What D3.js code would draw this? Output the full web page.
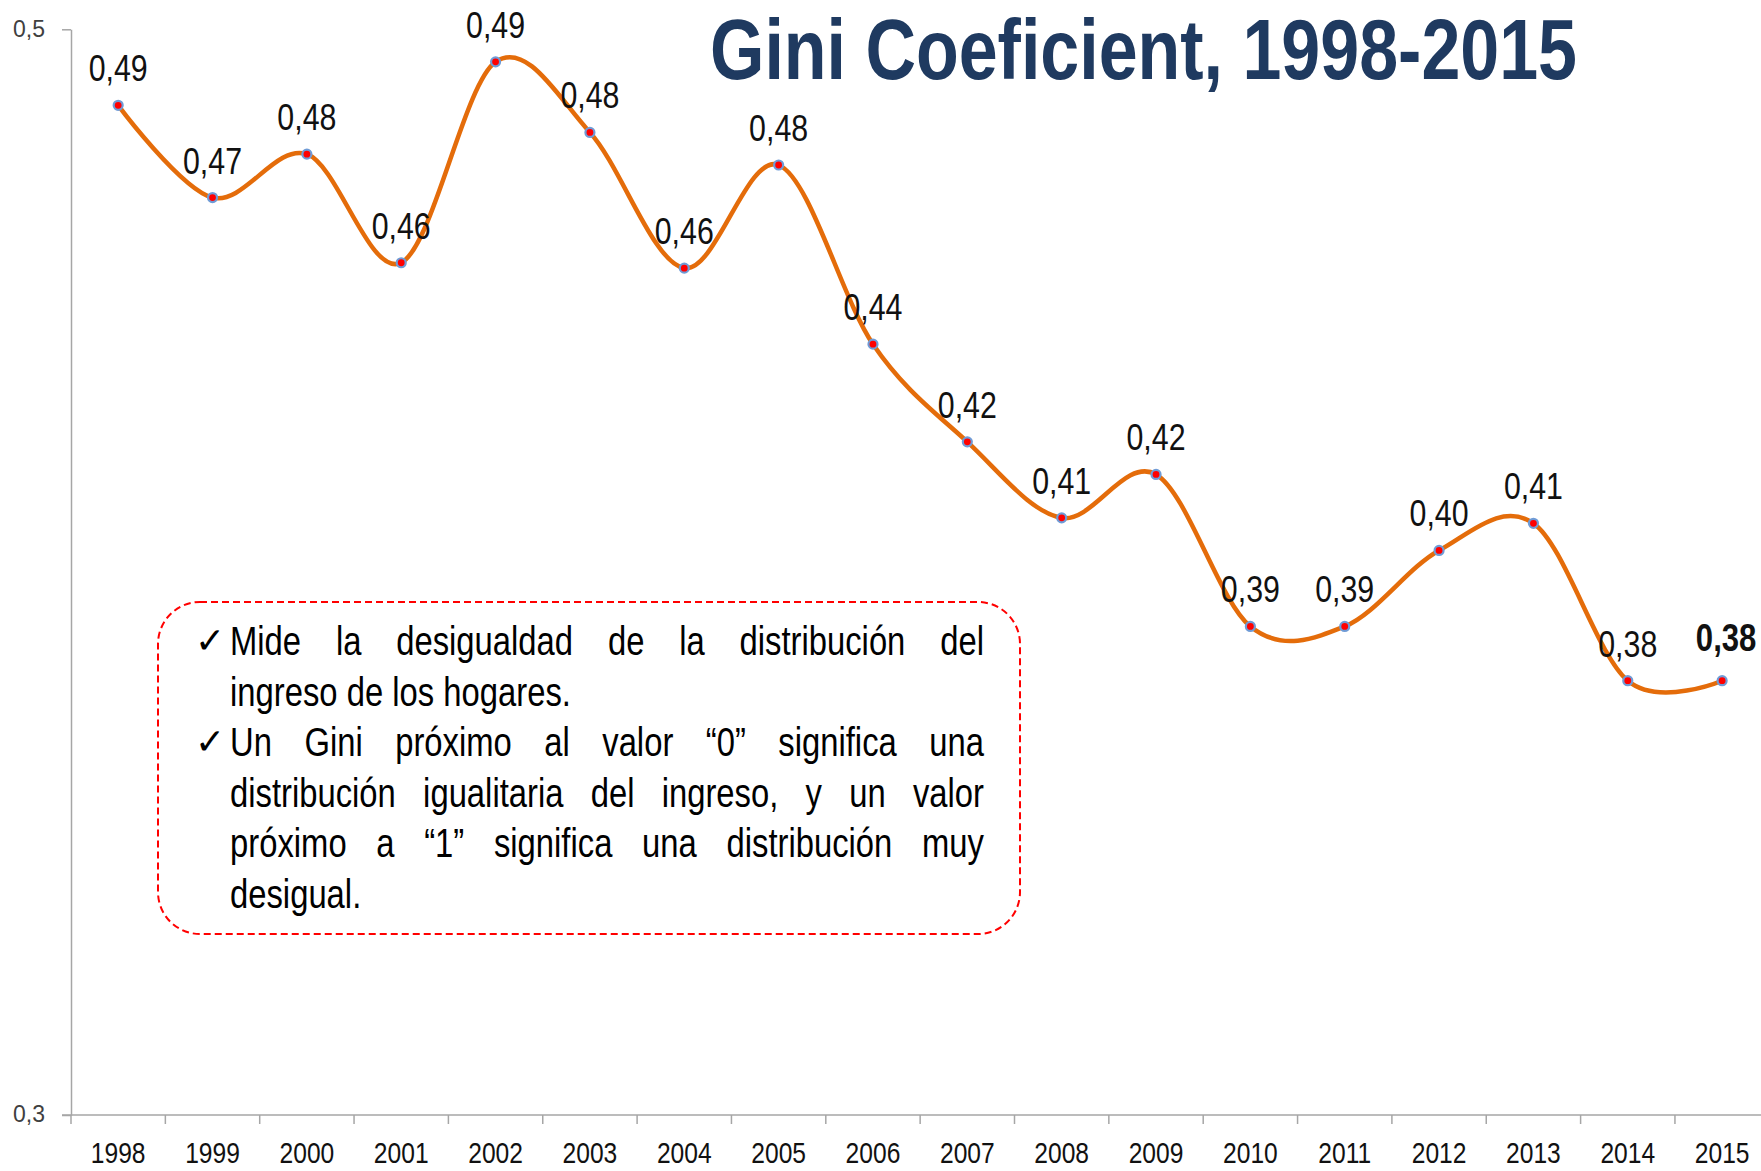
<!DOCTYPE html>
<html>
<head>
<meta charset="utf-8">
<script src="https://cdn.jsdelivr.net/npm/d3@7"></script>
<style>
  body { margin: 0; background: #fff; }
  text { font-family: "Liberation Sans", Arial, sans-serif; }
</style>
</head>
<body>
<script>
// years on the x axis
var years = ["1998","1999","2000","2001","2002","2003","2004","2005","2006",
             "2007","2008","2009","2010","2011","2012","2013","2014","2015"];
// Gini values
var gini = [0.486,0.469,0.477,0.457,0.494,0.481,0.456,0.475,0.442,
            0.424,0.410,0.418,0.390,0.390,0.404,0.409,0.380,0.380];
// data labels as printed
var giniLabels = ["0,49","0,47","0,48","0,46","0,49","0,48","0,46","0,48","0,44",
                  "0,42","0,41","0,42","0,39","0,39","0,40","0,41","0,38","0,38"];
var yTicks = [0.3, 0.5];
// text of the note box, one entry per printed line
var noteLines = [
  {check: true,  text: "Mide la desigualdad de la distribución del", justify: true},
  {check: false, text: "ingreso de los hogares.", justify: false},
  {check: true,  text: "Un Gini próximo al valor “0” significa una", justify: true},
  {check: false, text: "distribución igualitaria del ingreso, y un valor", justify: true},
  {check: false, text: "próximo a “1” significa una distribución muy", justify: true},
  {check: false, text: "desigual.", justify: false}
];

var W = 1761, H = 1171;
var NARROW = 0.82; // squeeze Liberation Sans to look like Arial Narrow

var svg = d3.select("body").append("svg")
    .attr("width", W).attr("height", H)
    .attr("xmlns", "http://www.w3.org/2000/svg");

//helper: put a squeezed text at x,y
function narrowAt(x, y){ return "translate(" + x + "," + y + ") scale(" + NARROW + ",1)"; }

//scales
var x = d3.scaleBand().domain(years).range([71, 71 + 18 * 94.35]);
var y = d3.scaleLinear().domain([0.3, 0.5]).range([1115, 29.3]);

//y axis
var yAxis = svg.append("g").attr("transform", "translate(71,0)")
    .call(d3.axisLeft(y).tickValues(yTicks).tickSize(9).tickSizeOuter(0)
        .tickFormat(function(d){ return d3.format(".1f")(d).replace(".", ","); }));
yAxis.select(".domain").attr("stroke", "#a6a6a6").attr("stroke-width", 1.5);
yAxis.selectAll(".tick line").attr("stroke", "#a6a6a6").attr("stroke-width", 1.5);
yAxis.selectAll(".tick text")
    .attr("x", -26).attr("dy", "0.3em")
    .style("font-size", "23px").attr("fill", "#404040");

//x axis (ticks sit between categories like Excel)
var xAxis = svg.append("g");
xAxis.append("line")
    .attr("x1", 62).attr("x2", W)
    .attr("y1", y(0.3)).attr("y2", y(0.3))
    .attr("stroke", "#a6a6a6").attr("stroke-width", 1.5);
xAxis.selectAll("line.tk").data(years).enter().append("line").classed("tk", true)
    .attr("x1", function(d){ return x(d); }).attr("x2", function(d){ return x(d); })
    .attr("y1", y(0.3)).attr("y2", y(0.3) + 9)
    .attr("stroke", "#a6a6a6").attr("stroke-width", 1.5);
xAxis.selectAll("text").data(years).enter().append("text")
    .attr("transform", function(d){ return narrowAt(x(d) + x.bandwidth() / 2, 1163); })
    .attr("text-anchor", "middle")
    .attr("font-size", 30).attr("fill", "#111")
    .text(function(d){ return d; });

//the smoothed line
var pts = years.map(function(d, i){ return [x(d) + x.bandwidth() / 2, y(gini[i])]; });
svg.append("path")
    .attr("d", d3.line().curve(d3.curveCardinal.tension(0))(pts))
    .attr("fill", "none").attr("stroke", "#e46c0a").attr("stroke-width", 4.5);

//markers
svg.selectAll("circle.pt").data(pts).enter().append("circle").classed("pt", true)
    .attr("cx", function(d){ return d[0]; }).attr("cy", function(d){ return d[1]; })
    .attr("r", 4.5).attr("fill", "#ff0000")
    .attr("stroke", "#6f9bd6").attr("stroke-width", 2.2);

//data labels, the last one is bold
var last = years.length - 1;
svg.selectAll("text.lbl").data(pts).enter().append("text").classed("lbl", true)
    .attr("transform", function(d, i){
        return i == last ? narrowAt(d[0] + 4, d[1] - 30) : narrowAt(d[0], d[1] - 24);
    })
    .attr("text-anchor", "middle")
    .attr("font-size", function(d, i){ return i == last ? 38 : 37; })
    .attr("font-weight", function(d, i){ return i == last ? "bold" : "normal"; })
    .attr("fill", "#111")
    .text(function(d, i){ return giniLabels[i]; });

//title
svg.append("text")
    .attr("x", 710).attr("y", 79)
    .attr("textLength", 867).attr("lengthAdjust", "spacingAndGlyphs")
    .attr("font-size", 86).attr("font-weight", "bold")
    .attr("fill", "#1f3a60")
    .text("Gini Coeficient, 1998-2015");

//note box
svg.append("rect")
    .attr("x", 158).attr("y", 602).attr("width", 862).attr("height", 332)
    .attr("rx", 42).attr("ry", 42)
    .attr("fill", "none").attr("stroke", "#ff0000")
    .attr("stroke-width", 2).attr("stroke-dasharray", "7,4");

var noteLeft = 230, noteRight = 984, noteTop = 655, noteStep = 50.6;
var note = svg.append("g").attr("font-size", 40).attr("fill", "#000");

noteLines.forEach(function(line, li){
    var by = noteTop + li * noteStep;
    if (line.check) {
        note.append("text").attr("x", 195).attr("y", by - 2)
            .attr("font-family", "DejaVu Sans, sans-serif")
            .attr("font-size", 36).text("✓");
    }
    var words = line.text.split(" ");
    var nodes = words.map(function(w){
        return note.append("text").text(w);
    });
    var widths = nodes.map(function(n){ return n.node().getComputedTextLength() * NARROW; });
    var total = d3.sum(widths);
    var gap = line.justify && words.length > 1
        ? (noteRight - noteLeft - total) / (words.length - 1)
        : 40 * 0.278 * NARROW;
    var cx = noteLeft;
    nodes.forEach(function(n, i){
        n.attr("transform", narrowAt(cx, by));
        cx += widths[i] + gap;
    });
});
</script>
</body>
</html>
